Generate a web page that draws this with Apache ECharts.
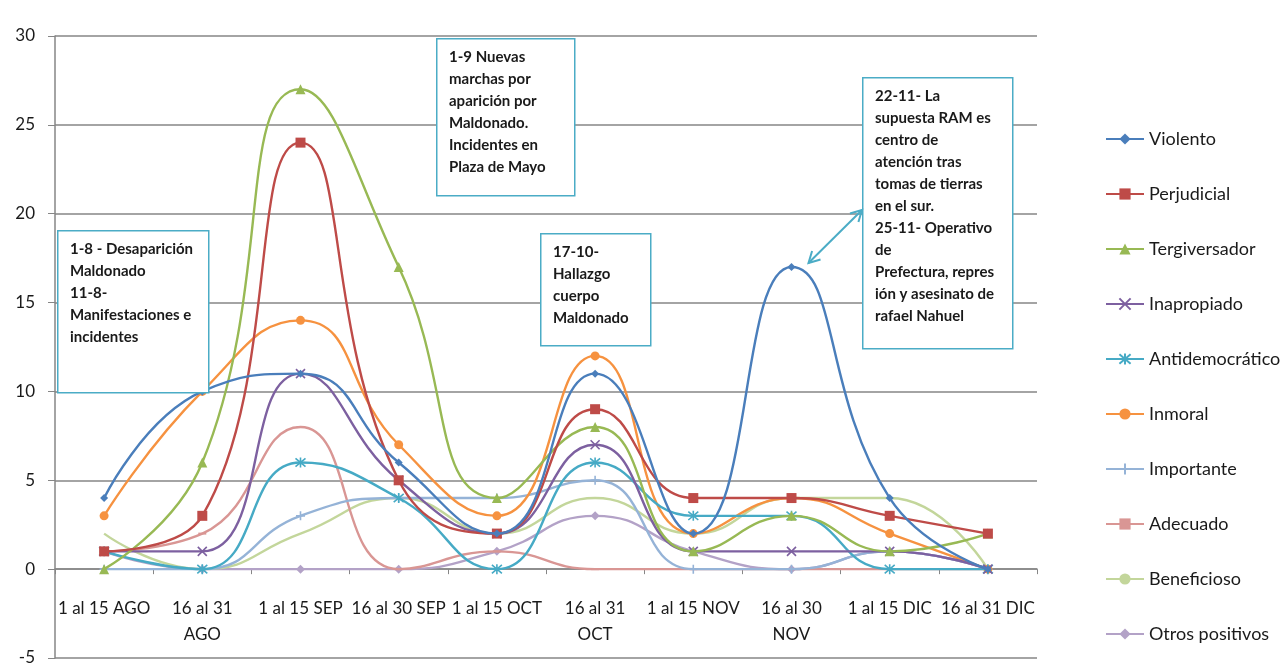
<!DOCTYPE html>
<html>
<head>
<meta charset="utf-8">
<script src="https://cdn.jsdelivr.net/npm/echarts@6/dist/echarts.min.js"></script>
<style>
html,body{margin:0;padding:0;background:#fff;}
#chart{width:1283px;height:666px;}
</style>
</head>
<body>
<div id="chart"></div>
<script>
const categories = ["1 al 15 AGO","16 al 31\nAGO","1 al 15 SEP","16 al 30 SEP","1 al 15 OCT","16 al 31\nOCT","1 al 15 NOV","16 al 30\nNOV","1 al 15 DIC","16 al 31 DIC"];
const yTicks = {min: -5, max: 30, interval: 5};

const violento       = [4, 10, 11, 6, 2, 11, 2, 17, 4, 0];
const perjudicial    = [1, 3, 24, 5, 2, 9, 4, 4, 3, 2];
const tergiversador  = [0, 6, 27, 17, 4, 8, 1, 3, 1, 2];
const inapropiado    = [1, 1, 11, 5, 2, 7, 1, 1, 1, 0];
const antidemocratico= [1, 0, 6, 4, 0, 6, 3, 3, 0, 0];
const inmoral        = [3, 10, 14, 7, 3, 12, 2, 4, 2, 0];
const importante     = [0, 0, 3, 4, 4, 5, 0, 0, 1, 0];
const adecuado       = [1, 2, 8, 0, 1, 0, 0, 0, 0, 0];
const beneficioso    = [2, 0, 2, 4, 2, 4, 2, 4, 4, 0];
const otrosPositivos = [1, 0, 0, 0, 1, 3, 1, 0, 1, 0];

const seriesNames = ["Violento","Perjudicial","Tergiversador","Inapropiado","Antidemocrático","Inmoral","Importante","Adecuado","Beneficioso","Otros positivos"];
const seriesData = [violento, perjudicial, tergiversador, inapropiado, antidemocratico, inmoral, importante, adecuado, beneficioso, otrosPositivos];

const annotations = [
  {text: "1-8 - Desaparición\nMaldonado\n11-8-\nManifestaciones e\nincidentes", box: [57, 230, 151, 162]},
  {text: "1-9 Nuevas\nmarchas por\naparición por\nMaldonado.\nIncidentes en\nPlaza de Mayo", box: [436, 38, 138, 157]},
  {text: "17-10-\nHallazgo\ncuerpo\nMaldonado", box: [540, 233, 110, 112]},
  {text: "22-11- La\nsupuesta RAM es\ncentro de\natención tras\ntomas de tierras\nen el sur.\n25-11- Operativo\nde\nPrefectura, repres\nión y asesinato de\nrafael Nahuel", box: [862, 77, 150, 271]}
];

const colors = ['#4A7EBB','#BE4B48','#98B954','#7D60A0','#46AAC5','#F69240','#95B3D7','#D99694','#C3D69B','#B3A2C7'];
const symbols = [
  {symbol:'diamond', size:8},
  {symbol:'rect', size:10},
  {symbol:'triangle', size:10},
  {symbol:'path://M0,0L10,10M10,0L0,10', size:9, stroke:true},
  {symbol:'path://M0,0L10,10M10,0L0,10M5,-1L5,11', size:10, stroke:true},
  {symbol:'circle', size:9},
  {symbol:'path://M5,0L5,10M0,5L10,5', size:9, stroke:true},
  {symbol:'rect', size:[8,2]},
  {symbol:'none', size:0},
  {symbol:'diamond', size:9}
];

const chart = echarts.init(document.getElementById('chart'), null, {renderer:'canvas'});
const FONT = 'Lato, "Open Sans", sans-serif';

const series = seriesNames.map((name, i) => ({
  name: name,
  type: 'line',
  data: seriesData[i],
  smooth: 0.5,
  symbol: symbols[i].symbol,
  symbolSize: symbols[i].size,
  showSymbol: symbols[i].symbol !== 'none',
  lineStyle: {width: 2.4, color: colors[i]},
  itemStyle: symbols[i].stroke ? {color: colors[i], borderColor: colors[i], borderWidth: 1.6} : {color: colors[i]},
  emphasis: {disabled: true},
  z: 10 - i
}));

const graphics = [];
annotations.forEach(a => {
  graphics.push({
    type: 'rect', left: a.box[0], top: a.box[1], z: 100,
    shape: {x: 0, y: 0, width: a.box[2], height: a.box[3]},
    style: {fill: '#fff', stroke: '#4BACC6', lineWidth: 1.5}
  });
  graphics.push({
    type: 'text', left: a.box[0] + 13, top: a.box[1] + 8, z: 101,
    style: {text: a.text, font: 'bold 15px ' + FONT, fill: '#1a1a1a', lineHeight: 22}
  });
});

const option = {
  animation: false,
  color: colors,
  textStyle: {fontFamily: FONT},
  grid: {left: 55, right: 246, top: 36, bottom: 8, containLabel: false, outerBoundsMode: 'none'},
  legend: {
    orient: 'vertical',
    left: 1105, top: 130, padding: 0,
    itemWidth: 38, itemHeight: 14, itemGap: 37,
    textStyle: {fontSize: 18, color: '#1a1a1a', fontFamily: FONT},
    data: seriesNames
  },
  xAxis: {
    type: 'category',
    data: categories,
    boundaryGap: true,
    axisLine: {onZero: false, lineStyle: {color: '#868686', width: 1.5}},
    axisTick: {show: true, interval: 0, length: 5, lineStyle: {color: '#868686'}},
    axisLabel: {interval: 0, margin: 26, fontSize: 17, color: '#1a1a1a', lineHeight: 26, fontFamily: FONT},
    splitLine: {show: false}
  },
  yAxis: {
    type: 'value',
    min: yTicks.min, max: yTicks.max, interval: yTicks.interval,
    axisLine: {show: true, lineStyle: {color: '#868686', width: 1.5}},
    axisTick: {show: true, length: 7, lineStyle: {color: '#868686'}},
    axisLabel: {margin: 20, fontSize: 17, color: '#1a1a1a', fontFamily: FONT},
    splitLine: {show: true, lineStyle: {color: '#868686', width: 1.5}}
  },
  series: series,
  graphic: graphics
};
chart.setOption(option);

// place the category axis (line + labels) on the zero line
const yZero = chart.convertToPixel({yAxisIndex: 0}, 0);
const yMin = chart.convertToPixel({yAxisIndex: 0}, yTicks.min);
chart.setOption({xAxis: {offset: -(yMin - yZero)}});

// double-headed arrow from annotation box to the Violento peak
const peakIdx = violento.indexOf(Math.max(...violento));
const peak = chart.convertToPixel({seriesIndex: 0}, [peakIdx, violento[peakIdx]]);
const A = [annotations[3].box[0], 210];
const B = [peak[0] + 17, peak[1] - 4];
function head(tip, from) {
  const dx = tip[0] - from[0], dy = tip[1] - from[1];
  const L = Math.hypot(dx, dy), ux = dx / L, uy = dy / L;
  const len = 11, w = 6;
  return [[tip[0] - ux*len + uy*w, tip[1] - uy*len - ux*w], tip, [tip[0] - ux*len - uy*w, tip[1] - uy*len + ux*w]];
}
graphics.push({type:'line', z: 102, shape:{x1:A[0], y1:A[1], x2:B[0], y2:B[1]}, style:{stroke:'#4BACC6', lineWidth:2}});
graphics.push({type:'polyline', z: 102, shape:{points: head(A, B)}, style:{stroke:'#4BACC6', lineWidth:2, fill:null}});
graphics.push({type:'polyline', z: 102, shape:{points: head(B, A)}, style:{stroke:'#4BACC6', lineWidth:2, fill:null}});
chart.setOption({graphic: graphics}, {replaceMerge: ['graphic']});
</script>
</body>
</html>
